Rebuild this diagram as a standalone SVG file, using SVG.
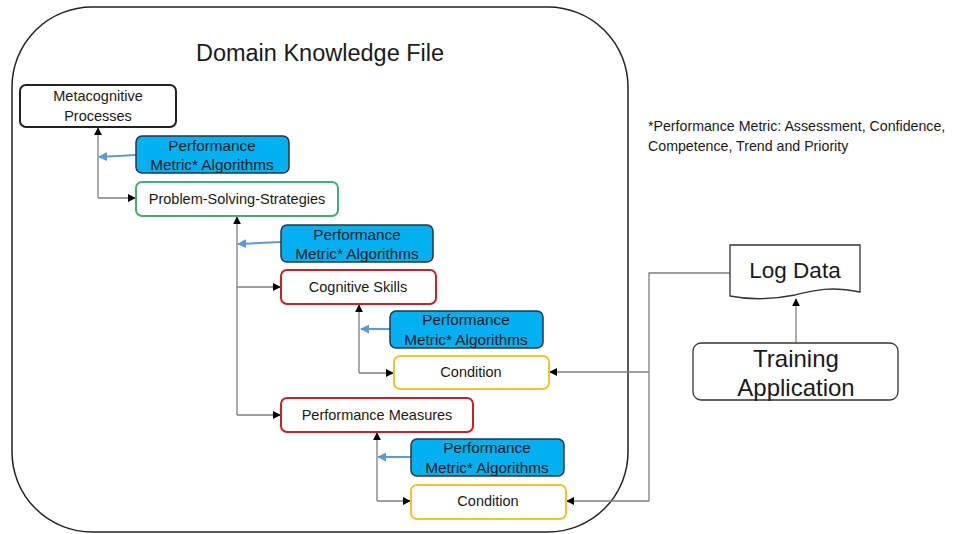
<svg xmlns="http://www.w3.org/2000/svg" width="956" height="534" viewBox="0 0 956 534">
<style>
text{font-family:"Liberation Sans","Open Sans",sans-serif;fill:#1a1a1a;text-anchor:middle}
.box{fill:#fff;stroke-width:2}
.pma{fill:#00B0F0;stroke:#2a3340;stroke-width:1.5}
.t13{font-size:14.5px}
.t14{font-size:15.3px}
.ln{fill:none;stroke:#7f7f7f;stroke-width:1.3}
.bl{fill:none;stroke:#5b9bd5;stroke-width:2}
</style>
<defs>
<marker id="ah" viewBox="0 0 10 10" refX="9" refY="5" markerWidth="8" markerHeight="8" markerUnits="userSpaceOnUse" orient="auto"><path d="M0,0L10,5L0,10z" fill="#000"/></marker>
<marker id="ab" viewBox="0 0 10 10" refX="9" refY="5" markerWidth="9" markerHeight="9" markerUnits="userSpaceOnUse" orient="auto"><path d="M0,0L10,5L0,10z" fill="#5b9bd5"/></marker>
</defs>
<rect width="956" height="534" fill="#fff"/>
<g id="container">
<rect x="12" y="7" width="616" height="525" rx="80" fill="none" stroke="#222" stroke-width="1.5"/>
<text x="320" y="61" style="font-size:23.5px">Domain Knowledge File</text>
</g>
<g id="connectors">
<path class="ln" d="M98,198V128" marker-end="url(#ah)"/>
<path class="ln" d="M98,198H135" marker-end="url(#ah)"/>
<path class="bl" d="M136,155L99,157" marker-end="url(#ab)"/>
<path class="ln" d="M237,415V217" marker-end="url(#ah)"/>
<path class="ln" d="M237,287H280" marker-end="url(#ah)"/>
<path class="ln" d="M237,415H280" marker-end="url(#ah)"/>
<path class="bl" d="M281,242L238,244" marker-end="url(#ab)"/>
<path class="ln" d="M359,373V305" marker-end="url(#ah)"/>
<path class="ln" d="M359,373H393" marker-end="url(#ah)"/>
<path class="bl" d="M390,329L361,329" marker-end="url(#ab)"/>
<path class="ln" d="M377,501V433" marker-end="url(#ah)"/>
<path class="ln" d="M377,501H410" marker-end="url(#ah)"/>
<path class="bl" d="M411,457L378,457" marker-end="url(#ab)"/>
<path class="ln" d="M730,273H649V501H567" marker-end="url(#ah)"/>
<path class="ln" d="M649,372H550" marker-end="url(#ah)"/>
<path class="ln" d="M796,343V299" marker-end="url(#ah)"/>
</g>
<g id="metacognitive">
<rect class="box" x="20" y="85" width="156" height="42" rx="6" stroke="#222"/>
<text class="t13" x="98" y="101">Metacognitive</text>
<text class="t13" x="98" y="121">Processes</text>
</g>
<g id="pma1">
<rect class="pma" x="136" y="136" width="153" height="37" rx="6"/>
<text class="t14" x="212" y="151">Performance</text>
<text class="t14" x="212" y="170">Metric* Algorithms</text>
</g>
<g id="pss">
<rect class="box" x="136" y="182" width="202" height="34" rx="6" stroke="#3cb371"/>
<text class="t13" x="237" y="204">Problem-Solving-Strategies</text>
</g>
<g id="pma2">
<rect class="pma" x="281" y="225" width="152" height="37" rx="6"/>
<text class="t14" x="357" y="240">Performance</text>
<text class="t14" x="357" y="259">Metric* Algorithms</text>
</g>
<g id="cognitive">
<rect class="box" x="281" y="270" width="155" height="34" rx="6" stroke="#c8202a"/>
<text class="t13" x="358" y="292">Cognitive Skills</text>
</g>
<g id="pma3">
<rect class="pma" x="390" y="311" width="153" height="37" rx="6"/>
<text class="t14" x="466" y="325">Performance</text>
<text class="t14" x="466" y="345">Metric* Algorithms</text>
</g>
<g id="condition1">
<rect class="box" x="394" y="356" width="155" height="33" rx="6" stroke="#f2c230"/>
<text class="t13" x="471" y="377">Condition</text>
</g>
<g id="perfmeasures">
<rect class="box" x="281" y="398" width="192" height="34" rx="6" stroke="#c8202a"/>
<text class="t13" x="377" y="420">Performance Measures</text>
</g>
<g id="pma4">
<rect class="pma" x="411" y="439" width="153" height="37" rx="6"/>
<text class="t14" x="487" y="453">Performance</text>
<text class="t14" x="487" y="473">Metric* Algorithms</text>
</g>
<g id="condition2">
<rect class="box" x="411" y="485" width="155" height="34" rx="6" stroke="#f2c230"/>
<text class="t13" x="488" y="506">Condition</text>
</g>
<g id="logdata">
<path d="M730,245H860V292C830,286 815,290 795,295C770,300 750,300 730,296Z" fill="#fff" stroke="#333" stroke-width="1.3"/>
<text x="795" y="278" style="font-size:22.5px">Log Data</text>
</g>
<g id="training">
<rect x="693" y="343" width="205" height="57" rx="8" fill="#fff" stroke="#333" stroke-width="1.3"/>
<text x="796" y="367" style="font-size:24px">Training</text>
<text x="796" y="396" style="font-size:24px">Application</text>
</g>
<g id="note">
<text x="648" y="131" style="font-size:14.2px;text-anchor:start">*Performance Metric: Assessment, Confidence,</text>
<text x="648" y="151" style="font-size:14.2px;text-anchor:start">Competence, Trend and Priority</text>
</g>
</svg>
